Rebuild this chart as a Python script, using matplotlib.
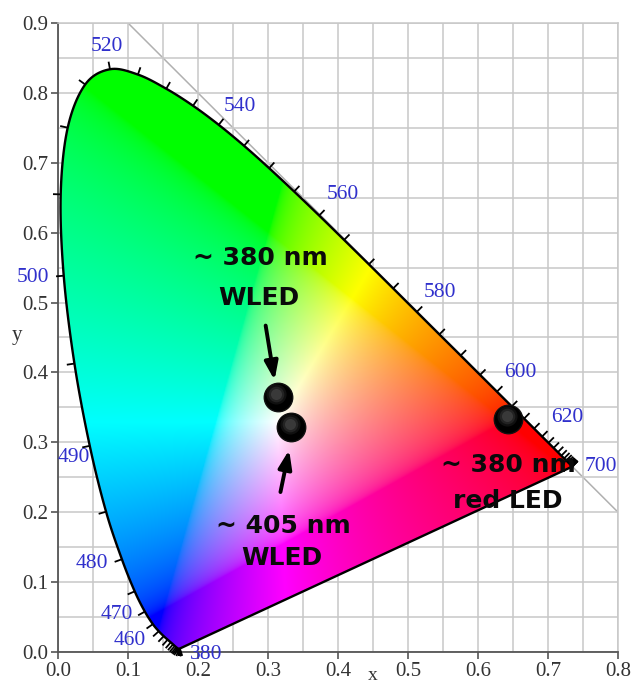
import numpy as np
import matplotlib
matplotlib.use("Agg")
import matplotlib.pyplot as plt
from matplotlib.patches import Polygon

# CIE 1931 2-degree spectral locus, 5 nm steps, 380..700 nm
wavelengths = np.arange(380, 705, 5)
locus_x = [0.1741, 0.1740, 0.1738, 0.1736, 0.1733, 0.1730, 0.1726, 0.1721,
           0.1714, 0.1703, 0.1689, 0.1669, 0.1644, 0.1611, 0.1566, 0.1510,
           0.1440, 0.1355, 0.1241, 0.1096, 0.0913, 0.0687, 0.0454, 0.0235,
           0.0082, 0.0039, 0.0139, 0.0389, 0.0743, 0.1142, 0.1547, 0.1929,
           0.2296, 0.2658, 0.3016, 0.3373, 0.3731, 0.4087, 0.4441, 0.4788,
           0.5125, 0.5448, 0.5752, 0.6029, 0.6270, 0.6482, 0.6658, 0.6801,
           0.6915, 0.7006, 0.7079, 0.7140, 0.7190, 0.7230, 0.7260, 0.7283,
           0.7300, 0.7311, 0.7320, 0.7327, 0.7334, 0.7340, 0.7344, 0.7346,
           0.7347]
locus_y = [0.0050, 0.0050, 0.0049, 0.0049, 0.0048, 0.0048, 0.0048, 0.0048,
           0.0051, 0.0058, 0.0069, 0.0086, 0.0109, 0.0138, 0.0177, 0.0227,
           0.0297, 0.0399, 0.0578, 0.0868, 0.1327, 0.2007, 0.2950, 0.4127,
           0.5384, 0.6548, 0.7502, 0.8120, 0.8338, 0.8262, 0.8059, 0.7816,
           0.7543, 0.7243, 0.6923, 0.6589, 0.6245, 0.5896, 0.5547, 0.5202,
           0.4866, 0.4544, 0.4242, 0.3965, 0.3725, 0.3514, 0.3340, 0.3197,
           0.3083, 0.2993, 0.2920, 0.2859, 0.2809, 0.2770, 0.2740, 0.2717,
           0.2700, 0.2689, 0.2680, 0.2673, 0.2666, 0.2660, 0.2656, 0.2654,
           0.2653]

label_wl = [380, 460, 470, 480, 490, 500, 520, 540, 560, 580, 600, 620, 700]
label_pos = {380: (0.212, -0.003), 460: (0.102, 0.017), 470: (0.084, 0.053),
             480: (0.048, 0.127), 490: (0.022, 0.278), 500: (-0.036, 0.536),
             520: (0.070, 0.866), 540: (0.260, 0.781), 560: (0.407, 0.654),
             580: (0.546, 0.515), 600: (0.660, 0.400), 620: (0.727, 0.335),
             700: (0.776, 0.266)}

# measured sources (x, y)
led_x = [0.314, 0.333, 0.643]
led_y = [0.365, 0.322, 0.333]

lx = np.array(locus_x)
ly = np.array(locus_y)


def catmull(px, py, sub=12):
    # smooth curve through the tabulated points
    P = np.column_stack([px, py])
    P = np.vstack([P[0], P, P[-1]])
    out = []
    t = np.linspace(0, 1, sub, endpoint=False)[:, None]
    for i in range(1, len(P) - 2):
        p0, p1, p2, p3 = P[i - 1], P[i], P[i + 1], P[i + 2]
        seg = 0.5 * ((2 * p1) + (-p0 + p2) * t + (2 * p0 - 5 * p1 + 4 * p2 - p3) * t ** 2
                     + (-p0 + 3 * p1 - 3 * p2 + p3) * t ** 3)
        out.append(seg)
    out.append(P[-2][None, :])
    return np.vstack(out)


curve = catmull(lx, ly)

fig = plt.figure(figsize=(6.35, 6.88), dpi=100)
ax = fig.add_axes([0.0913, 0.0523, 0.882, 0.9143])
ax.set_xlim(0, 0.8)
ax.set_ylim(0, 0.9)

# grid
ax.set_xticks(np.arange(0, 0.81, 0.05), minor=True)
ax.set_yticks(np.arange(0, 0.91, 0.05), minor=True)
ax.set_xticks(np.arange(0, 0.81, 0.1))
ax.set_yticks(np.arange(0, 0.91, 0.1))
ax.grid(True, which="both", color="#c8c8c8", lw=1.1, zorder=0)
ax.tick_params(which="minor", length=0)
ax.tick_params(which="major", direction="out", length=5, width=1.2,
               color="#555555", labelsize=15, labelcolor="#333333", pad=2)
ax.set_xticklabels(["%.1f" % v for v in np.arange(0, 0.81, 0.1)], family="Liberation Serif")
ax.set_yticklabels(["%.1f" % v for v in np.arange(0, 0.91, 0.1)], family="Liberation Serif")
for s in ["left", "bottom"]:
    ax.spines[s].set_color("#555555")
    ax.spines[s].set_linewidth(1.3)
for s in ["top", "right"]:
    ax.spines[s].set_color("#c8c8c8")
    ax.spines[s].set_linewidth(1.1)

# x + y = 1 line
ax.plot([0.1, 0.8], [0.9, 0.2], color="#b0b0b0", lw=1.1, zorder=1)

# colour fill: xy -> XYZ -> sRGB, normalised to max channel
nx, ny = 480, 540
gx, gy = np.meshgrid(np.linspace(0, 0.8, nx), np.linspace(0, 0.9, ny))
gy_safe = np.where(gy < 1e-4, 1e-4, gy)
X = gx / gy_safe
Y = np.ones_like(gx)
Z = (1 - gx - gy) / gy_safe
M = np.array([[3.2406, -1.5372, -0.4986],
              [-0.9689, 1.8758, 0.0415],
              [0.0557, -0.2040, 1.0570]])
rgb = np.stack([M[i, 0] * X + M[i, 1] * Y + M[i, 2] * Z for i in range(3)], axis=-1)
rgb = np.clip(rgb, 0, None)
rgb = rgb / np.maximum(rgb.max(axis=-1, keepdims=True), 1e-9)
rgb = np.where(rgb <= 0.0031308, 12.92 * rgb, 1.055 * rgb ** (1 / 2.4) - 0.055)
rgb = np.clip(rgb, 0, 1)

poly = Polygon(curve, closed=True, facecolor="none",
               edgecolor="black", lw=1.7, zorder=4)
ax.add_patch(poly)
im = ax.imshow(rgb, origin="lower", extent=[0, 0.8, 0, 0.9], aspect="auto",
               interpolation="bilinear", zorder=2)
im.set_clip_path(poly)

# wavelength ticks, outward normal to the locus
tx = np.gradient(lx)
ty = np.gradient(ly)
n = np.hypot(tx, ty)
tx = np.where(n < 1e-4, -1.0, tx)
ty = np.where(n < 1e-4, 0.0, ty)
n = np.hypot(tx, ty)
nxv, nyv = -ty / n, tx / n
tl = 0.011
for i in range(len(wavelengths)):
    ax.plot([lx[i], lx[i] + nxv[i] * tl], [ly[i], ly[i] + nyv[i] * tl],
            color="black", lw=1.3, zorder=5, clip_on=False, solid_capstyle="butt")

for wl in label_wl:
    px, py = label_pos[wl]
    ax.text(px, py, str(wl), color="#3030cc", fontsize=15.5, family="Liberation Serif",
            ha="center", va="center", zorder=6, clip_on=False)

# LED points as shaded spheres
ax.scatter(led_x, led_y, s=420, color="black", zorder=7, edgecolors="#111111")
for k, a in zip([0.5, 0.3, 0.15], [0.12, 0.16, 0.22]):
    ax.scatter(np.array(led_x) - 0.002, np.array(led_y) + 0.004, s=420 * k,
               color="#888888", alpha=a, zorder=8, linewidths=0)

# arrows
arrow = dict(arrowstyle="-|>,head_length=1.1,head_width=0.4", color="black", lw=2.8)
ax.annotate("", xy=(0.310, 0.385), xytext=(0.296, 0.471), arrowprops=arrow, zorder=9)
ax.annotate("", xy=(0.331, 0.293), xytext=(0.317, 0.225), arrowprops=arrow, zorder=9)

tk = dict(fontsize=18, fontweight="bold", family="DejaVu Sans", color="#0a0a0a",
          ha="center", va="baseline", zorder=10)
ax.text(0.2886, 0.5536, "~ 380 nm", **tk)
ax.text(0.287, 0.4964, "WLED", **tk)
ax.text(0.3214, 0.1702, "~ 405 nm", **tk)
ax.text(0.320, 0.1245, "WLED", **tk)
ax.text(0.644, 0.2575, "~ 380 nm", **tk)
ax.text(0.643, 0.206, "red LED", **tk)

ax.text(0.449, -0.034, "x", fontsize=14, family="Liberation Serif", ha="center",
        va="center", color="#333333", clip_on=False)
ax.text(-0.059, 0.453, "y", fontsize=15, family="Liberation Serif", ha="center",
        va="center", color="#333333", clip_on=False)

fig.savefig("out.png", dpi=100)
